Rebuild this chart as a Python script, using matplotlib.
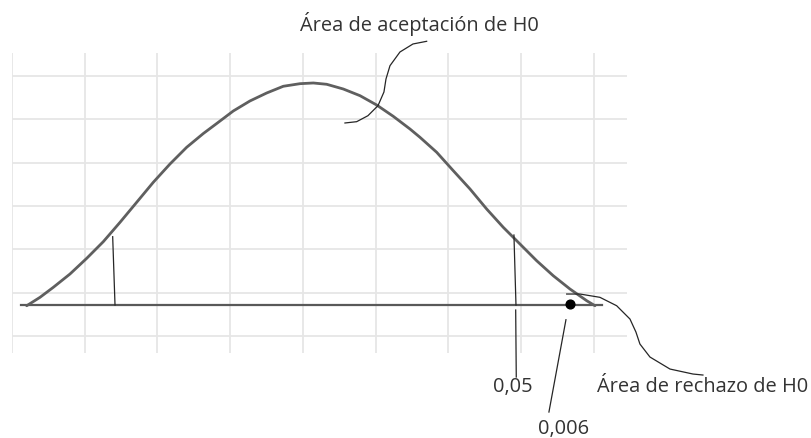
import matplotlib
matplotlib.use("Agg")
import matplotlib.pyplot as plt

# ── Data (grid units; one grid cell = 1) ─────────────────────────────────────
curve_x = [0.202, 0.385, 0.568, 0.797, 1.027, 1.255, 1.485, 1.714, 1.942, 2.172,
           2.401, 2.630, 2.814, 3.042, 3.271, 3.501, 3.729, 3.959, 4.142, 4.326,
           4.554, 4.784, 5.013, 5.241, 5.471, 5.608, 5.838, 6.066, 6.296, 6.525,
           6.753, 6.983, 7.212, 7.440, 7.670, 7.900, 8.014]
curve_y = [0.699, 0.893, 1.124, 1.431, 1.793, 2.177, 2.624, 3.086, 3.547, 3.970,
           4.355, 4.673, 4.904, 5.193, 5.424, 5.608, 5.763, 5.823, 5.839, 5.809,
           5.700, 5.546, 5.331, 5.070, 4.777, 4.586, 4.240, 3.815, 3.393, 2.931,
           2.509, 2.123, 1.738, 1.392, 1.085, 0.815, 0.699]

base_x = [0.124, 8.110]
base_y = 0.715

# critical value marks (left / right) and the 0,05 leader line
crit_left_x = [1.384, 1.416]
crit_left_y = [2.292, 0.715]
crit_right_x = [6.900, 6.928]
crit_right_y = [2.331, 0.715]
lead05_x = [6.924, 6.932]
lead05_y = [0.600, -0.946]

# p-value point and its leader line
p_x, p_y = 7.670, 0.750
lead006_x = [7.615, 7.381]
lead006_y = [0.376, -1.754]

# hand-drawn connectors
acc_x = [5.700, 5.512, 5.333, 5.196, 5.141, 5.113, 5.031, 4.893, 4.738, 4.577]
acc_y = [6.801, 6.739, 6.554, 6.238, 5.931, 5.631, 5.315, 5.084, 4.946, 4.916]
rej_x = [7.625, 7.808, 8.082, 8.312, 8.495, 8.577, 8.632, 8.770, 9.045, 9.361, 9.498]
rej_y = [0.969, 0.969, 0.893, 0.699, 0.392, 0.092, -0.185, -0.485, -0.762, -0.877, -0.900]

labels = ["Área de aceptación de H0", "Área de rechazo de H0", "0,05", "0,006"]
label_x = [3.959, 8.041, 6.612, 7.230]
label_y = [7.062, -1.262, -1.262, -2.239]

# ── Plot ─────────────────────────────────────────────────────────────────────
plt.rcParams['font.family'] = ['Open Sans', 'DejaVu Sans']

fig = plt.figure(figsize=(8.11, 4.39), dpi=100)
ax = fig.add_axes([0.0148, 0.1936, 0.7583, 0.6834])
ax.set_xlim(0, 8.454)
ax.set_ylim(-0.392, 6.531)
ax.set_xticks(range(0, 9))
ax.set_yticks(range(0, 7))
ax.grid(True, color='#e6e6e6', linewidth=1.3)
ax.tick_params(length=0, labelbottom=False, labelleft=False)
for s in ax.spines.values():
    s.set_visible(False)

ax.plot(base_x, [base_y, base_y], color='#595959', linewidth=1.6, zorder=3)
ax.plot(curve_x, curve_y, color='#5f5f5f', linewidth=2.0, zorder=4,
        solid_capstyle='round', solid_joinstyle='round')

thin = dict(color='#262626', linewidth=0.9, zorder=5, clip_on=False,
            solid_joinstyle='round')
ax.plot(crit_left_x, crit_left_y, **thin)
ax.plot(crit_right_x, crit_right_y, **thin)
ax.plot(lead05_x, lead05_y, **thin)
ax.plot(lead006_x, lead006_y, **thin)
ax.plot(acc_x, acc_y, **thin)
ax.plot(rej_x, rej_y, **thin)

ax.plot([p_x], [p_y], 'o', color='black', markersize=6.3, zorder=6)

for t, x, y in zip(labels, label_x, label_y):
    ax.text(x, y, t, ha='left', va='baseline', fontsize=14.4, color='#333333',
            clip_on=False)

fig.savefig('out.png', dpi=100)
